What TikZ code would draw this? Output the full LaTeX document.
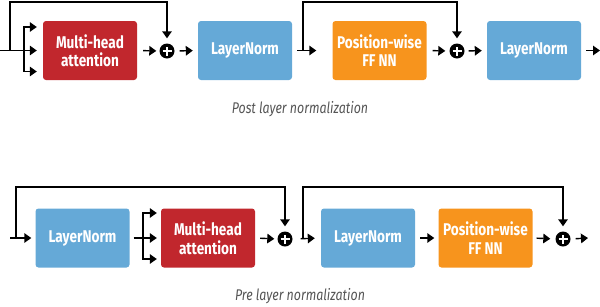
\documentclass[tikz,border=0pt]{standalone}
\usepackage{fontspec}
\setsansfont{Fira Sans}[FakeStretch=0.8]
\usetikzlibrary{arrows.meta}
\definecolor{mhared}{HTML}{C1272D}
\definecolor{lnblue}{HTML}{65A9D7}
\definecolor{fforange}{HTML}{F7941D}
\definecolor{captiongray}{HTML}{555555}
\begin{document}
\begin{tikzpicture}[x=1pt,y=-1pt,
  blk/.style={rounded corners=3pt, minimum width=94pt, minimum height=59pt, text=white,
    font=\sffamily\bfseries\fontsize{17}{18.5}\selectfont, align=center, inner sep=0pt},
  mhabox/.style={blk, fill=mhared},
  lnbox/.style={blk, fill=lnblue},
  ffbox/.style={blk, fill=fforange},
  wire/.style={line width=1.4pt},
  conn/.style={wire, -{Triangle[length=7pt,width=9.5pt]}},
  addnode/.style={circle, fill=black, minimum size=15pt, inner sep=0pt,
    path picture={\draw[white, line width=1.8pt]
      ([xshift=-4.5pt]path picture bounding box.center) -- ([xshift=4.5pt]path picture bounding box.center)
      ([yshift=-4.5pt]path picture bounding box.center) -- ([yshift=4.5pt]path picture bounding box.center);}},
  captext/.style={font=\sffamily\itshape\fontsize{15.5}{17}\selectfont, text=captiongray, anchor=base}
]
\useasboundingbox (0,0) rectangle (600,306);

% ---------- Post layer normalization ----------
\node[mhabox] (mha1) at (90,50.5) {Multi-head\\attention};
\node[lnbox]  (ln1)  at (245,50.5) {LayerNorm};
\node[ffbox]  (ff1)  at (379.5,50.5) {Position-wise\\FF NN};
\node[lnbox]  (ln2)  at (534,50.5) {LayerNorm};
\node[addnode] (add1) at (167,51) {};
\node[addnode] (add2) at (457,51) {};
\coordinate (in1) at (0,50.5);
\coordinate (loop1) at (10,50.5);
\coordinate (fk1) at (24,50.5);
\coordinate (loop2) at (303,50.5);
\coordinate (out1) at (600,50.5);

\draw[wire] (in1) -- (fk1);
\draw[conn, shorten >=6pt] (fk1) -- (mha1.west);
\draw[conn, shorten >=6pt] (fk1) |- ([yshift=23.5pt]mha1.west);
\draw[conn, shorten >=6pt] (fk1) |- ([yshift=-21pt]mha1.west);
\draw[conn, shorten >=5pt] (loop1) -- ++(0,-48.5) -| (add1.north);
\draw[conn, shorten <=6pt, shorten >=3pt] (mha1.east) -- (add1.west);
\draw[conn, shorten <=5pt, shorten >=5pt] (add1.east) -- (ln1.west);
\draw[conn, shorten <=5pt, shorten >=16pt] (ln1.east) -- (ff1.west);
\draw[conn, shorten >=5pt] (loop2) -- ++(0,-48.5) -| (add2.north);
\draw[conn, shorten <=6pt, shorten >=4pt] (ff1.east) -- (add2.west);
\draw[conn, shorten <=4pt, shorten >=5pt] (add2.east) -- (ln2.west);
\draw[conn, shorten <=5pt] (ln2.east) -- (out1);

\node[captext] (cap1) at (300,113) {Post layer normalization};

% ---------- Pre layer normalization ----------
\node[lnbox]  (ln3)  at (82.5,238) {LayerNorm};
\node[mhabox] (mha2) at (208,238) {Multi-head\\attention};
\node[lnbox]  (ln4)  at (368,238) {LayerNorm};
\node[ffbox]  (ff2)  at (485.5,238) {Position-wise\\FF NN};
\node[addnode] (add3) at (285,239) {};
\node[addnode] (add4) at (563,239) {};
\coordinate (in2) at (10,238);
\coordinate (loop3) at (16,238);
\coordinate (fk2) at (143,238);
\coordinate (loop4) at (303,238);
\coordinate (out2) at (588,238);

\draw[conn, shorten >=4pt] (in2) -- (ln3.west);
\draw[conn, shorten >=5pt] (loop3) -- ++(0,-51) -| (add3.north);
\draw[wire, shorten <=4pt] (ln3.east) -- (fk2);
\draw[conn, shorten >=4pt] (fk2) -- (mha2.west);
\draw[conn, shorten >=4pt] (fk2) |- ([yshift=25pt]mha2.west);
\draw[conn, shorten >=4pt] (fk2) |- ([yshift=-21pt]mha2.west);
\draw[conn, shorten <=5pt, shorten >=3pt] (mha2.east) -- (add3.west);
\draw[conn, shorten <=8pt, shorten >=6pt] (add3.east) -- (ln4.west);
\draw[conn, shorten >=5pt] (loop4) -- ++(0,-51) -| (add4.north);
\draw[conn, shorten <=5pt, shorten >=4pt] (ln4.east) -- (ff2.west);
\draw[conn, shorten <=4pt, shorten >=5pt] (ff2.east) -- (add4.west);
\draw[conn, shorten <=5pt] (add4.east) -- (out2);

\node[captext] (cap2) at (300,300) {Pre layer normalization};
\end{tikzpicture}
\end{document}
